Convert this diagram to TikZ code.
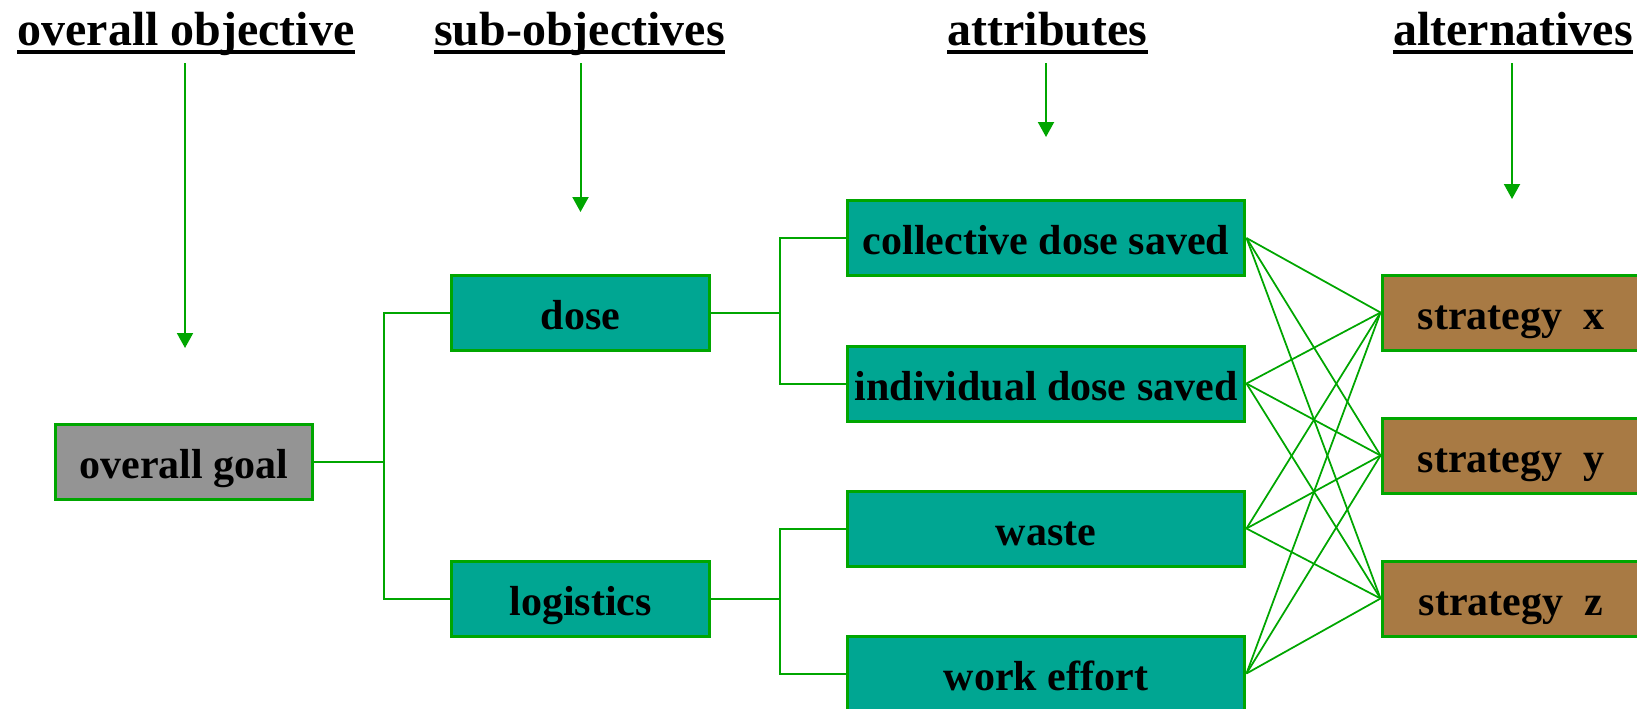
\documentclass[tikz,border=0pt]{standalone}
\usepackage{fontspec}
\setmainfont{Liberation Serif}
\usepackage{xcolor}
\usepackage{tikz}
\usetikzlibrary{calc, arrows.meta}

\definecolor{linegreen}{RGB}{0,166,0}
\definecolor{boxteal}{RGB}{0,166,146}
\definecolor{boxgray}{RGB}{148,148,148}
\definecolor{boxbrown}{RGB}{168,122,68}

\begin{document}
\begin{tikzpicture}[x=0.02cm, y=-0.02cm,
    >={Triangle[length=0.3cm, width=0.32cm]},
    box/.style={draw=linegreen, line width=0.06cm, minimum height=1.5cm,
        inner sep=0pt, text height=23.9pt, text depth=4.8pt,
        font=\fontsize{23.9}{28}\selectfont\bfseries},
    head/.style={inner sep=0pt, anchor=base,
        font=\fontsize{27.3}{32}\selectfont\bfseries},
    link/.style={linegreen, line width=0.04cm},
    cross/.style={linegreen, line width=0.035cm}]
    \useasboundingbox (0,0) rectangle (1637,708);

    % 1. Column headings
    \node[head] (hobj) at (186,45) {overall objective};
    \node[head] (hsub) at (579.5,45) {sub-objectives};
    \node[head] (hatt) at (1047.5,45) {attributes};
    \node[head] (halt) at (1513,45) {alternatives};
    \foreach \h in {hobj, hsub, hatt, halt}
        \draw[line width=0.066cm] ($(\h.base west)+(0,7)$) -- ($(\h.base east)+(0,7)$);

    % 2. Arrows below the headings
    \coordinate (aobj) at (185,348);
    \coordinate (asub) at (580.5,212);
    \coordinate (aatt) at (1046,137);
    \coordinate (aalt) at (1512,199);
    \draw[->, link] ($(hobj.base)+(-1,18)$) -- (aobj);
    \draw[->, link] ($(hsub.base)+(1,18)$) -- (asub);
    \draw[->, link] ($(hatt.base)+(-1.5,18)$) -- (aatt);
    \draw[->, link] ($(halt.base)+(-1,18)$) -- (aalt);

    % 3. Boxes
    \node[box, fill=boxgray, minimum width=5.16cm] (goal) at (184,461.5) {overall goal};

    \node[box, fill=boxteal, minimum width=5.18cm] (dose) at (580.5,312.5) {dose};
    \node[box, fill=boxteal, minimum width=5.18cm] (logi) at (580.5,598.5) {logistics};

    \node[box, fill=boxteal, minimum width=7.96cm] (coll) at (1046,238) {collective dose saved};
    \node[box, fill=boxteal, minimum width=7.96cm] (indiv) at (1046,383.5) {individual dose saved};
    \node[box, fill=boxteal, minimum width=7.96cm] (waste) at (1046,528.5) {waste};
    \node[box, fill=boxteal, minimum width=7.96cm] (work) at (1046,673.5) {work effort};

    \node[box, fill=boxbrown, minimum width=5.16cm] (sx) at (1511,312.5) {strategy\ \ x};
    \node[box, fill=boxbrown, minimum width=5.16cm] (sy) at (1511,455.5) {strategy\ \ y};
    \node[box, fill=boxbrown, minimum width=5.16cm] (sz) at (1511,598.5) {strategy\ \ z};

    % 4. Tree connectors
    \draw[link] (goal.east) -- ++(70,0) coordinate (j1);
    \draw[link] (dose.west) -| (j1) |- (logi.west);
    \draw[link] (dose.east) -- ++(69,0) coordinate (j2);
    \draw[link] (coll.west) -| (j2) |- (indiv.west);
    \draw[link] (logi.east) -- ++(69,0) coordinate (j3);
    \draw[link] (waste.west) -| (j3) |- (work.west);

    % 5. Attributes to alternatives
    \foreach \a in {coll, indiv, waste, work}
        \foreach \s in {sx, sy, sz}
            \draw[cross] (\a.east) -- (\s.west);
\end{tikzpicture}
\end{document}
